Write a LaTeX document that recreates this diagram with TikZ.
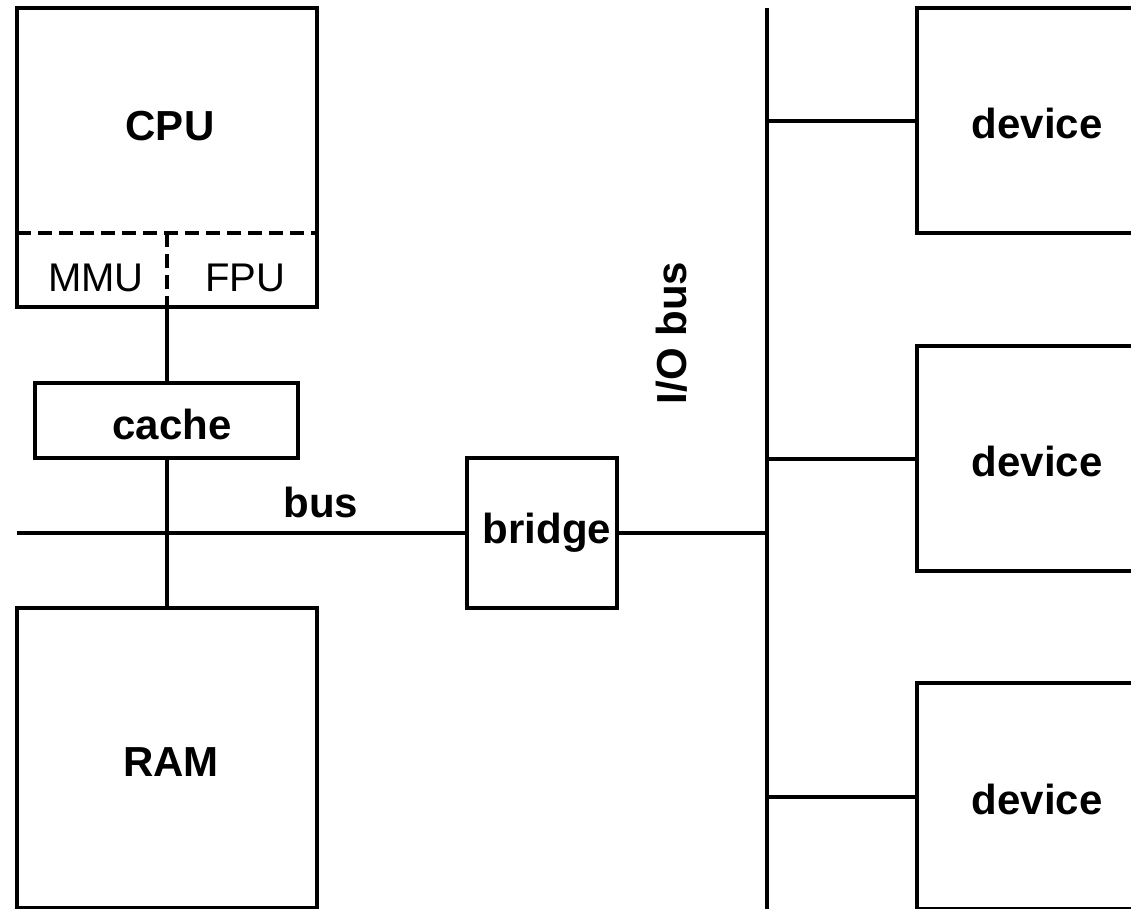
\documentclass[tikz,border=0pt]{standalone}
\usepackage{fontspec}
\setmainfont{Liberation Sans}
\begin{document}
\begin{tikzpicture}[x=1pt,y=-1pt,
  box/.style={draw,line width=3.5pt,rectangle,inner sep=0pt,outer sep=0pt,anchor=north west},
  lbl/.style={font=\fontsize{42}{44}\selectfont\bfseries,inner sep=0pt},
  plain/.style={font=\fontsize{40}{42}\selectfont,inner sep=0pt},
  wire/.style={line width=3.5pt},
  dsh/.style={line width=3.5pt,dash pattern=on 14pt off 7pt}]
\useasboundingbox (0,0) rectangle (1131,909);
\clip (0,0) rectangle (1131,909);
% boxes
\node[box,minimum width=300pt,minimum height=299pt] (cpu) at (17,8) {};
\node[box,minimum width=263pt,minimum height=75pt] (cache) at (35,383) {};
\node[box,minimum width=300pt,minimum height=300pt] (ram) at (17,608) {};
\node[box,minimum width=150pt,minimum height=150pt] (bridge) at (467,458) {};
\node[box,minimum width=240pt,minimum height=225pt] (dev1) at (917,8) {};
\node[box,minimum width=240pt,minimum height=225pt] (dev2) at (917,346) {};
\node[box,minimum width=240pt,minimum height=226pt] (dev3) at (917,683) {};
% labels
\node[lbl] (cpuL) at (170,126) {CPU};
\node[plain] (mmuL) at (96,278) {MMU};
\node[plain] (fpuL) at (245,278) {FPU};
\node[lbl] (cacheL) at (172,424) {cache};
\node[lbl] (ramL) at (171,762) {RAM};
\node[lbl] (bridgeL) at (547,533) {bridge};
\node[lbl] (busL) at (321,502) {bus};
\node[lbl,rotate=90] (iobusL) at (672,333) {I/O bus};
\node[lbl] (d1L) at (1037,123) {device};
\node[lbl] (d2L) at (1037,461) {device};
\node[lbl] (d3L) at (1037,799) {device};
% CPU internal dashed lines
\coordinate (dl) at (17,233);
\coordinate (dr) at (317,233);
\coordinate (dm) at (167,233);
\draw[dsh] (dl) -- (dr);
\draw[dsh] (dm) -- (dm |- cpu.south);
% connectors
\draw[wire] (dm |- cpu.south) -- (dm |- cache.north);
\coordinate (busL0) at (17,533);
\coordinate (busX) at (167,533);
\draw[wire] (busX |- cache.south) -- (busX |- ram.north);
\draw[wire] (busL0) -- (busL0 -| bridge.west);
\coordinate (iotop) at (767,8);
\coordinate (iobot) at (767,909);
\coordinate (iomid) at (767,533);
\draw[wire] (iotop) -- (iobot);
\draw[wire] (iomid -| bridge.east) -- (iomid);
\coordinate (t1) at (767,121);
\coordinate (t2) at (767,459);
\coordinate (t3) at (767,797);
\draw[wire] (t1) -- (t1 -| dev1.west);
\draw[wire] (t2) -- (t2 -| dev2.west);
\draw[wire] (t3) -- (t3 -| dev3.west);
\end{tikzpicture}
\end{document}
